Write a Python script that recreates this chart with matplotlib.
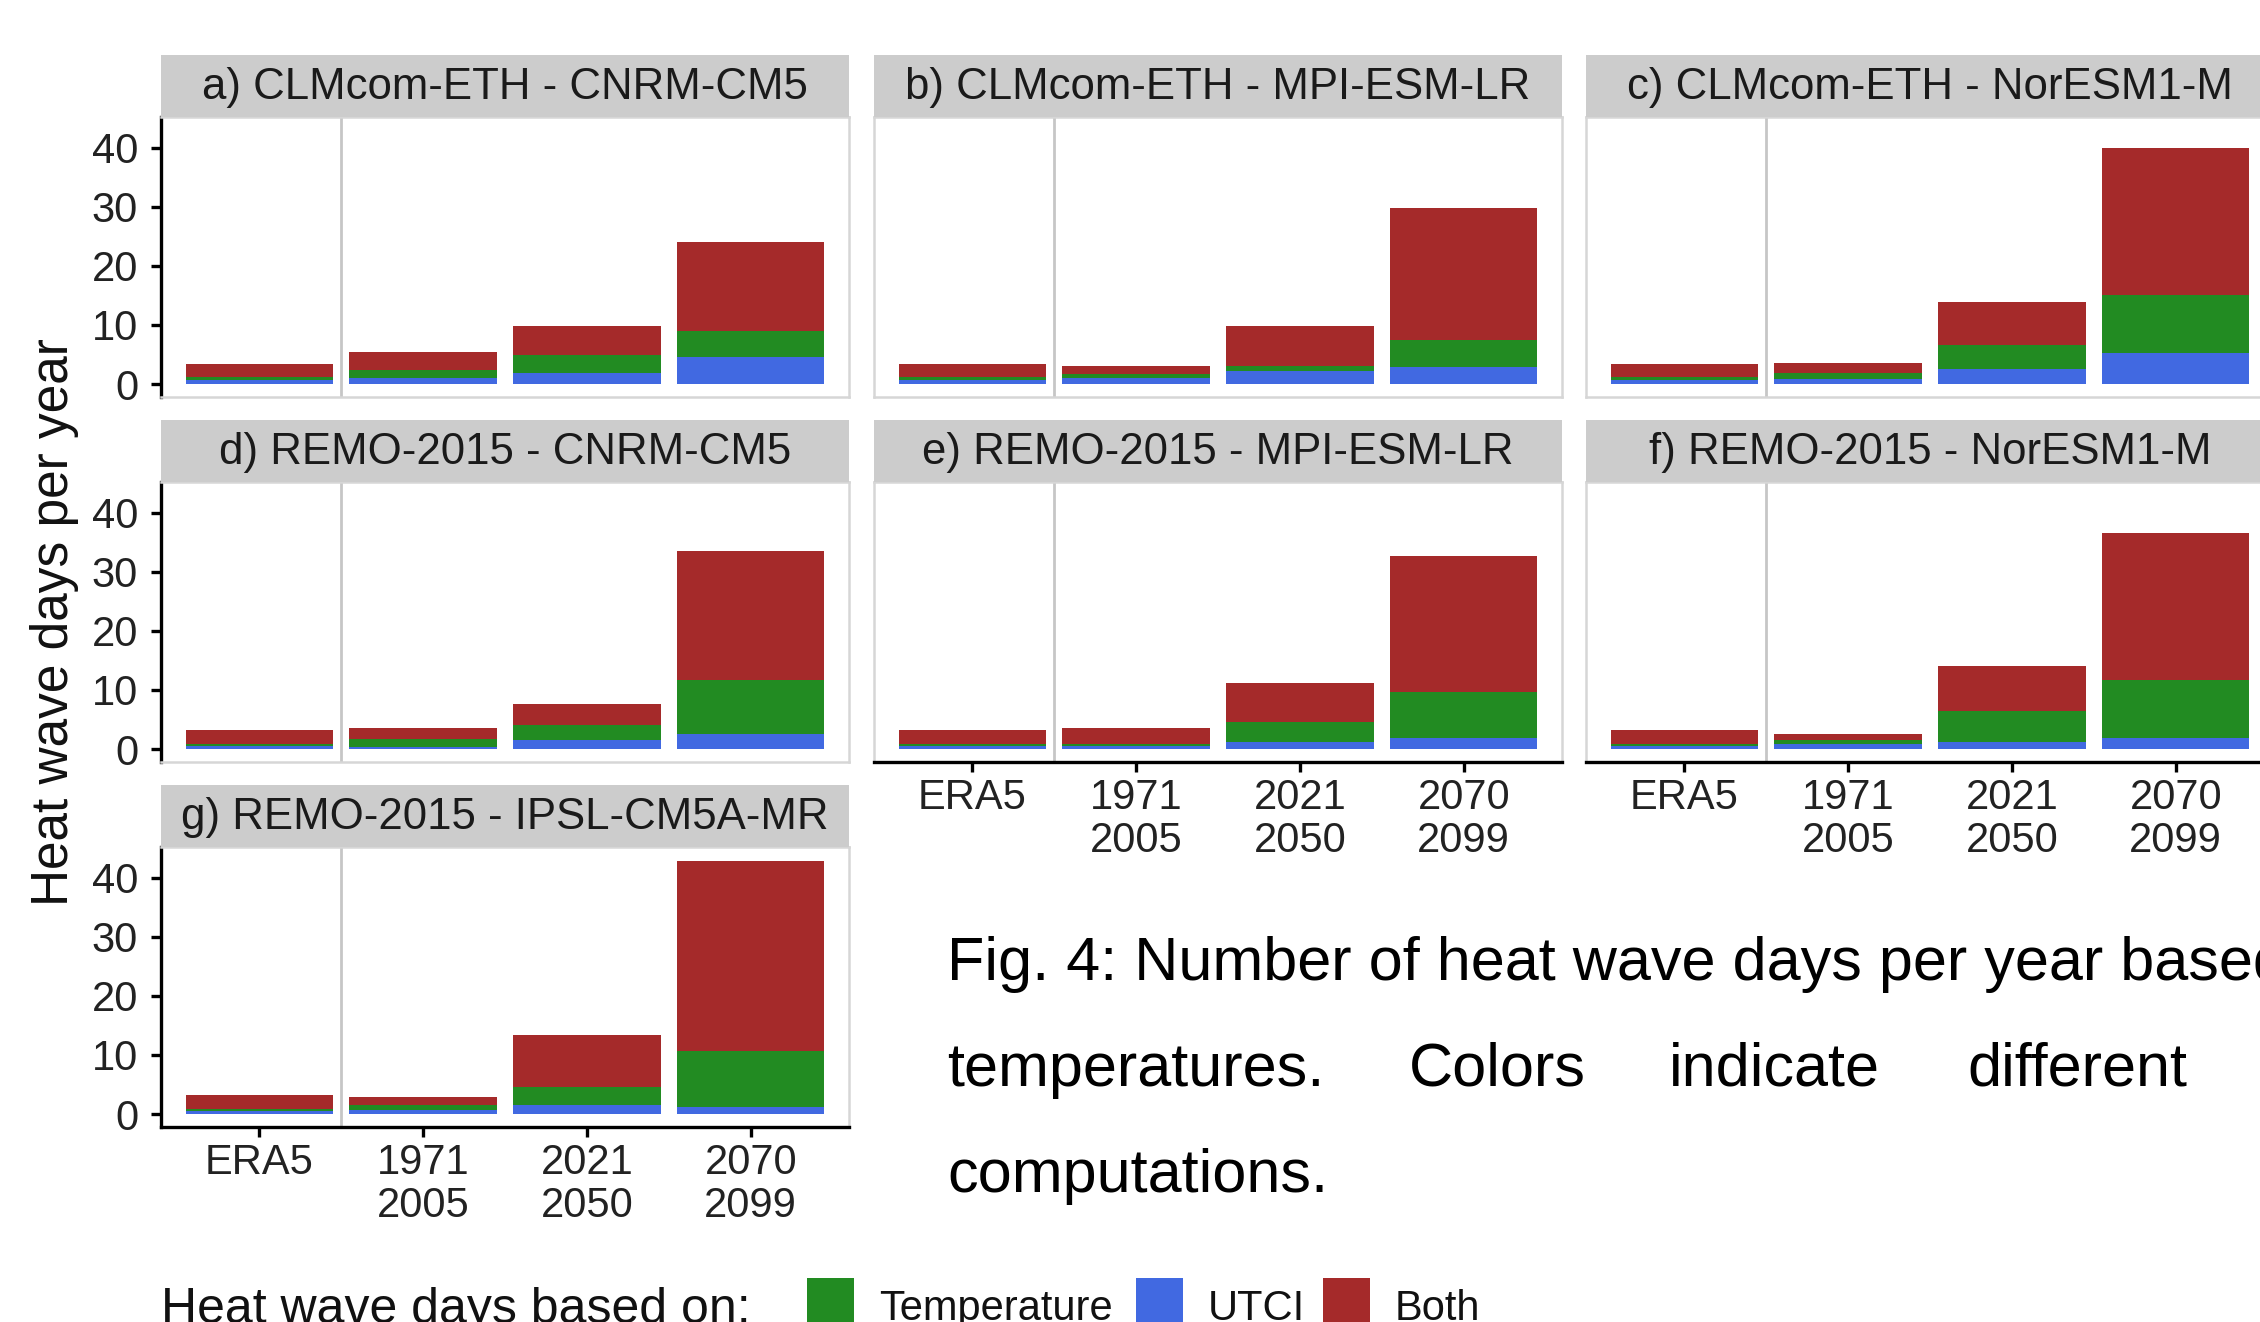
import numpy as np
import matplotlib
matplotlib.use('Agg')
import matplotlib.pyplot as plt
from matplotlib import font_manager
from matplotlib.patches import Rectangle

# fonts: Arial-like for the chart, a narrow one for the caption if we have it
avail = {f.name for f in font_manager.fontManager.ttflist}
body_font = 'Liberation Sans' if 'Liberation Sans' in avail else 'DejaVu Sans'
caption_font = 'Liberation Sans Narrow' if 'Liberation Sans Narrow' in avail else body_font
plt.rcParams['font.family'] = [body_font, 'DejaVu Sans']

# data (heat wave days per year)
periods = ["ERA5", "1971\n2005", "2021\n2050", "2070\n2099"]
panel_titles = ["a) CLMcom-ETH - CNRM-CM5", "b) CLMcom-ETH - MPI-ESM-LR",
                "c) CLMcom-ETH - NorESM1-M", "d) REMO-2015 - CNRM-CM5",
                "e) REMO-2015 - MPI-ESM-LR", "f) REMO-2015 - NorESM1-M",
                "g) REMO-2015 - IPSL-CM5A-MR"]
utci_days = [[0.6, 1.1, 1.9, 4.5],
             [0.6, 1.0, 2.2, 2.8],
             [0.6, 0.9, 2.5, 5.2],
             [0.5, 0.4, 1.5, 2.6],
             [0.5, 0.5, 1.2, 1.9],
             [0.5, 0.8, 1.2, 1.9],
             [0.5, 0.6, 1.6, 1.2]]
temp_days = [[0.6, 1.3, 3.0, 4.5],
             [0.6, 0.7, 0.9, 4.6],
             [0.6, 1.0, 4.1, 9.8],
             [0.4, 1.3, 2.6, 9.0],
             [0.4, 0.3, 3.4, 7.7],
             [0.4, 0.7, 5.3, 9.8],
             [0.4, 0.9, 3.0, 9.5]]
both_days = [[2.2, 3.1, 5.0, 15.1],
             [2.2, 1.3, 6.8, 22.4],
             [2.2, 1.6, 7.2, 24.9],
             [2.3, 1.8, 3.5, 22.0],
             [2.3, 2.7, 6.6, 23.0],
             [2.3, 1.0, 7.5, 24.9],
             [2.3, 1.4, 8.7, 32.2]]

legend_labels = ["Temperature", "UTCI", "Both"]
c_temp, c_utci, c_both = "#228B22", "#4169E1", "#A52A2A"

W, H = 2260, 1322
fig = plt.figure(figsize=(W / 100, H / 100), dpi=100)


def px_box(left, top, width, height):
    return [left / W, 1 - (top + height) / H, width / W, height / H]


col_left = [161, 874, 1586]
row_top = [117, 482, 847]
panel_w, panel_h, strip_h = 688, 280, 62
layout = [(0, 0), (0, 1), (0, 2), (1, 0), (1, 1), (1, 2), (2, 0)]
x = np.arange(1, 5)

for i, (r, c) in enumerate(layout):
    ax = fig.add_axes(px_box(col_left[c], row_top[r], panel_w, panel_h))
    u = np.array(utci_days[i])
    t = np.array(temp_days[i])
    b = np.array(both_days[i])
    ax.bar(x, u, width=0.9, color=c_utci, linewidth=0, zorder=2)
    ax.bar(x, t, width=0.9, bottom=u, color=c_temp, linewidth=0, zorder=2)
    ax.bar(x, b, width=0.9, bottom=u + t, color=c_both, linewidth=0, zorder=2)
    ax.axvline(1.5, color='#c6c6c6', lw=2, zorder=1)
    ax.set_xlim(0.4, 4.6)
    ax.set_ylim(-2.2, 45.2)
    for s in ax.spines.values():
        s.set_color('#d6d6d6')
        s.set_linewidth(1.8)

    if c == 0:
        ax.spines['left'].set_color('black')
        ax.spines['left'].set_linewidth(2.4)
        ax.set_yticks([0, 10, 20, 30, 40])
        ax.tick_params(axis='y', length=7.5, width=2.4, pad=9, labelsize=30, labelcolor='#222222')
    else:
        ax.set_yticks([])

    if i in (4, 5, 6):
        ax.spines['bottom'].set_color('black')
        ax.spines['bottom'].set_linewidth(2.4)
        ax.set_xticks(x)
        ax.set_xticklabels(periods, linespacing=1.1)
        ax.tick_params(axis='x', length=7.5, width=2.4, pad=4, labelsize=30, labelcolor='#222222')
    else:
        ax.set_xticks([])

    # facet strip
    sax = fig.add_axes(px_box(col_left[c], row_top[r] - strip_h, panel_w, strip_h))
    sax.set_facecolor('#cccccc')
    sax.set_xticks([])
    sax.set_yticks([])
    for s in sax.spines.values():
        s.set_visible(False)
    sax.text(0.5, 0.47, panel_titles[i], ha='center', va='center', fontsize=31.5,
             color='#1a1a1a', transform=sax.transAxes)

fig.text(55 / W, 1 - 622 / H, "Heat wave days per year", rotation=90,
         ha='center', va='center', fontsize=37, color='#111111')

# legend along the bottom
fig.text(161 / W, 1 - 1323 / H, "Heat wave days based on:", fontsize=36,
         va='baseline', ha='left', color='#111111')
key_x = [807, 1136, 1323]
text_x = [879, 1208, 1395]
for lab, col, kx, tx in zip(legend_labels, [c_temp, c_utci, c_both], key_x, text_x):
    fig.add_artist(Rectangle((kx / W, 1 - 1325 / H), 47 / W, 47 / H,
                             transform=fig.transFigure, color=col, lw=0))
    fig.text(tx / W, 1 - 1320 / H, lab, fontsize=30, va='baseline', ha='left', color='#111111')

# caption text on the right
cap_size = 52 if caption_font != body_font else 44
fig.text(947 / W, 1 - 980 / H, "Fig. 4: Number of heat wave days per year based",
         fontsize=cap_size, family=caption_font, va='baseline', ha='left')
for word, wx in zip(["temperatures.", "Colors", "indicate", "different"], [947, 1409, 1669, 1967]):
    fig.text(wx / W, 1 - 1086 / H, word, fontsize=cap_size, family=caption_font,
             va='baseline', ha='left')
fig.text(947 / W, 1 - 1192 / H, "computations.", fontsize=cap_size, family=caption_font,
         va='baseline', ha='left')

fig.savefig("out.png", dpi=100, facecolor='white')
